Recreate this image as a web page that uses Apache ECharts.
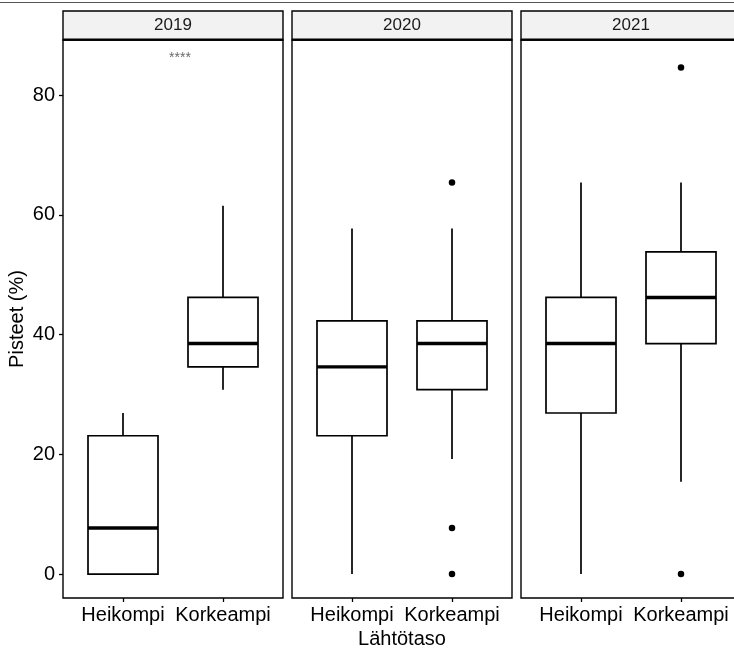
<!DOCTYPE html>
<html>
<head>
    <meta charset="utf-8">
    <title>Pisteet lähtötason mukaan</title>
    <script src="https://cdn.jsdelivr.net/npm/echarts@6/dist/echarts.min.js"></script>
    <style>
        html, body { margin: 0; padding: 0; background: #fff; }
    </style>
</head>
<body>
    <div id="main" style="width: 734px;height:650px;"></div>
    <script type="text/javascript">
        // data
        var years = ['2019', '2020', '2021'];
        var groups = ['Heikompi', 'Korkeampi'];
        // [min, Q1, median, Q3, max] for each year
        var heikompi = [
            [0, 0, 7.7, 23.1, 26.9],
            [0, 23.1, 34.6, 42.3, 57.7],
            [0, 26.9, 38.5, 46.2, 65.4]
        ];
        var korkeampi = [
            [30.8, 34.6, 38.5, 46.2, 61.5],
            [19.2, 30.8, 38.5, 42.3, 57.7],
            [15.4, 38.5, 46.2, 53.8, 65.4]
        ];
        var outliersHeikompi = [[], [], []];
        var outliersKorkeampi = [[], [65.4, 7.7, 0], [84.6, 0]];
        var yTicks = [0, 20, 40, 60, 80];
        var signifLabel = ['****', '', ''];
        var signifPos = [1.57, 86.1];

        var dom = document.getElementById('main');
        var myChart = echarts.init(dom);

        var font = 'Liberation Sans, Arial, sans-serif';
        var panelLeft = [63, 292, 521];
        var panelW = 220;
        var panelTop = 40;
        var panelH = 558;

        function renderBox(params, api) {
            var x = api.value(0);
            var half = api.size([0.7, 0])[0] / 2;
            var pMin = api.coord([x, api.value(1)]);
            var pQ1 = api.coord([x, api.value(2)]);
            var pMed = api.coord([x, api.value(3)]);
            var pQ3 = api.coord([x, api.value(4)]);
            var pMax = api.coord([x, api.value(5)]);
            var lineStyle = { stroke: '#000', lineWidth: 1.7 };
            return {
                type: 'group',
                children: [{
                    type: 'line',
                    shape: { x1: pMax[0], y1: pMax[1], x2: pQ3[0], y2: pQ3[1] },
                    style: lineStyle
                }, {
                    type: 'line',
                    shape: { x1: pMin[0], y1: pMin[1], x2: pQ1[0], y2: pQ1[1] },
                    style: lineStyle
                }, {
                    type: 'rect',
                    shape: { x: pQ3[0] - half, y: pQ3[1], width: half * 2, height: pQ1[1] - pQ3[1] },
                    style: { fill: '#fff', stroke: '#000', lineWidth: 1.7 }
                }, {
                    type: 'line',
                    shape: { x1: pMed[0] - half, y1: pMed[1], x2: pMed[0] + half, y2: pMed[1] },
                    style: { stroke: '#000', lineWidth: 3.4 }
                }]
            };
        }

        var grids = [], xAxes = [], yAxes = [], series = [], graphics = [];

        years.forEach(function (year, i) {
            grids.push({
                left: panelLeft[i], top: panelTop, width: panelW, height: panelH,
                outerBoundsMode: 'none', containLabel: false,
                show: true, borderColor: '#000', borderWidth: 1.4, backgroundColor: '#fff'
            });
            xAxes.push({
                type: 'value', gridIndex: i, min: 0.4, max: 2.6,
                position: 'bottom',
                splitLine: { show: false },
                axisLine: { show: false, onZero: false },
                axisTick: { show: true, customValues: [1, 2], length: 4, lineStyle: { color: '#000', width: 1.3 } },
                axisLabel: {
                    customValues: [1, 2], margin: 7,
                    fontSize: 20, color: '#000', fontFamily: font,
                    formatter: function (v) { return groups[Math.round(v) - 1]; }
                },
                name: i === 1 ? 'Lähtötaso' : '',
                nameLocation: 'middle', nameGap: 30,
                nameTextStyle: { fontSize: 20, color: '#000', fontFamily: font }
            });
            yAxes.push({
                type: 'value', gridIndex: i, min: -4.0, max: 89.2,
                show: i === 0,
                position: 'left',
                splitLine: { show: false },
                axisLine: { show: false, onZero: false },
                axisTick: { show: true, customValues: yTicks, length: 4, lineStyle: { color: '#000', width: 1.3 } },
                axisLabel: {
                    customValues: yTicks, margin: 8,
                    fontSize: 20, color: '#000', fontFamily: font
                },
                name: 'Pisteet (%)',
                nameLocation: 'middle', nameGap: 36,
                nameTextStyle: { fontSize: 20, color: '#000', fontFamily: font }
            });

            var boxes = [
                [1].concat(heikompi[i]),
                [2].concat(korkeampi[i])
            ];
            series.push({
                type: 'custom', xAxisIndex: i, yAxisIndex: i,
                renderItem: renderBox,
                data: boxes,
                silent: true
            });

            var pts = [];
            outliersHeikompi[i].forEach(function (v) { pts.push([1, v]); });
            outliersKorkeampi[i].forEach(function (v) { pts.push([2, v]); });
            series.push({
                type: 'scatter', xAxisIndex: i, yAxisIndex: i,
                symbolSize: 6.5,
                itemStyle: { color: '#000', opacity: 1 },
                data: pts,
                silent: true
            });

            if (signifLabel[i]) {
                series.push({
                    type: 'scatter', xAxisIndex: i, yAxisIndex: i,
                    symbolSize: 0,
                    data: [signifPos],
                    label: {
                        show: true, position: 'inside',
                        formatter: signifLabel[i],
                        fontSize: 14, color: '#444', fontFamily: font
                    },
                    silent: true
                });
            }

            // facet strip
            graphics.push({
                type: 'rect',
                shape: { x: panelLeft[i], y: 11, width: panelW, height: 29 },
                style: { fill: '#f2f2f2', stroke: '#000', lineWidth: 1.4 }
            });
            graphics.push({
                type: 'line',
                shape: { x1: panelLeft[i], y1: 39.5, x2: panelLeft[i] + panelW, y2: 39.5 },
                style: { stroke: '#000', lineWidth: 2.2 }
            });
            graphics.push({
                type: 'text',
                x: panelLeft[i] + panelW / 2, y: 25.5,
                style: {
                    text: year, fontSize: 17, fill: '#1a1a1a', fontFamily: font,
                    align: 'center', verticalAlign: 'middle'
                }
            });
        });

        // thin rule along the top edge
        graphics.push({
            type: 'line',
            shape: { x1: 0, y1: 2.5, x2: 734, y2: 2.5 },
            style: { stroke: '#555', lineWidth: 1.2 }
        });

        var option = {
            animation: false,
            backgroundColor: '#fff',
            grid: grids,
            xAxis: xAxes,
            yAxis: yAxes,
            series: series,
            graphic: graphics
        };

        myChart.setOption(option, true);
    </script>
</body>
</html>
